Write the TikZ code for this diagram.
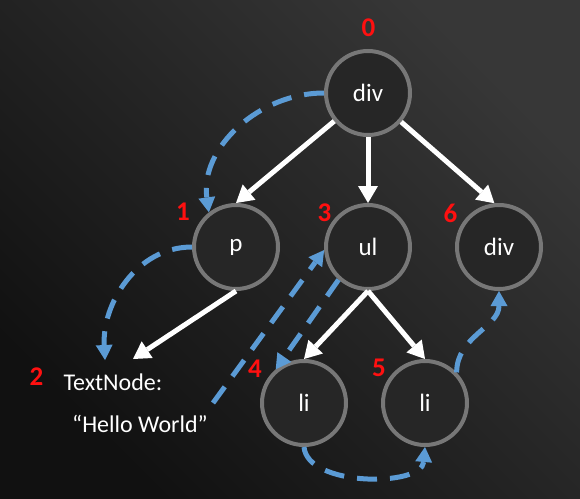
\documentclass[tikz,border=0pt]{standalone}
\usepackage{fontspec}
\setmainfont{Carlito}
\usetikzlibrary{arrows.meta}
\definecolor{bgdark}{HTML}{111111}
\definecolor{bglight}{HTML}{373737}
\definecolor{ringgray}{HTML}{777777}
\definecolor{nodefill}{HTML}{262626}
\definecolor{traceblue}{HTML}{5B9BD5}
\definecolor{numred}{HTML}{FF1010}
\begin{document}
\begin{tikzpicture}[x=1pt,y=1pt,
  tree/.style={circle, draw=ringgray, line width=4pt, fill=nodefill,
    minimum size=84pt, inner sep=0pt, text=white,
    font=\fontsize{25}{30}\selectfont},
  num/.style={text=numred, inner sep=0pt,
    font=\bfseries\fontsize{27}{32}\selectfont},
  lbl/.style={text=white, inner sep=0pt, font=\fontsize{24}{28}\selectfont},
  edge/.style={white, line width=5pt,
    -{Triangle[length=17pt,width=20pt,line width=0pt]}},
  trace/.style={traceblue, line width=5pt, dash pattern=on 20pt off 13pt,
    -{Triangle[length=15pt,width=17pt,line width=0pt]}}]
\useasboundingbox (0,0) rectangle (580,-498);
\shade[top color=bglight, bottom color=bgdark, shading angle=-45]
  (0,0) rectangle (580,-498);

% tree nodes
\node[tree] (div0) at (368,-93) {div};
\node[tree] (p) at (236,-247) {p};
\node[tree] (ul) at (368,-247) {ul};
\node[tree] (div6) at (499,-247) {div};
\node[tree] (li4) at (304,-403) {li};
\node[tree] (li5) at (425,-403) {li};
\node[lbl, anchor=base] (tn1) at (113,-390) {TextNode:};
\node[lbl, anchor=base] (tn2) at (140,-432) {“Hello World”};

% order numbers
\node[num] (n0) at (368.5,-27.5) {0};
\node[num] (n1) at (183,-212) {1};
\node[num] (n2) at (36.5,-377) {2};
\node[num] (n3) at (324.5,-213) {3};
\node[num] (n4) at (255,-369) {4};
\node[num] (n5) at (379,-368) {5};
\node[num] (n6) at (450.5,-213) {6};

% connector end points near the text node
\coordinate (tnw) at (133,-359);
\coordinate (tnb) at (105,-360);
\coordinate (tnr) at (213,-403);

% tree edges
\draw[edge] (div0) -- (p.north);
\draw[edge] (div0) -- (ul);
\draw[edge] (div0) -- (div6.96);
\draw[edge] (p.south) -- (tnw);
\draw[edge] (ul.south) -- (li4.north);
\draw[edge] (ul.south) -- (li5.north);

% traversal order
\draw[trace] (div0.west) to[out=180,in=98] (p.128);
\draw[trace] (p.west) to[out=180,in=93] (tnb);
\draw[trace] (tnr) -- (ul.184);
\draw[trace] (ul.228) -- (li4.130);
\draw[trace] (li4.south) to[out=-85,in=-95,looseness=0.85] (li5.south);
\draw[trace] (li5.44) to[out=90,in=-90] (div6.south);
\end{tikzpicture}
\end{document}
